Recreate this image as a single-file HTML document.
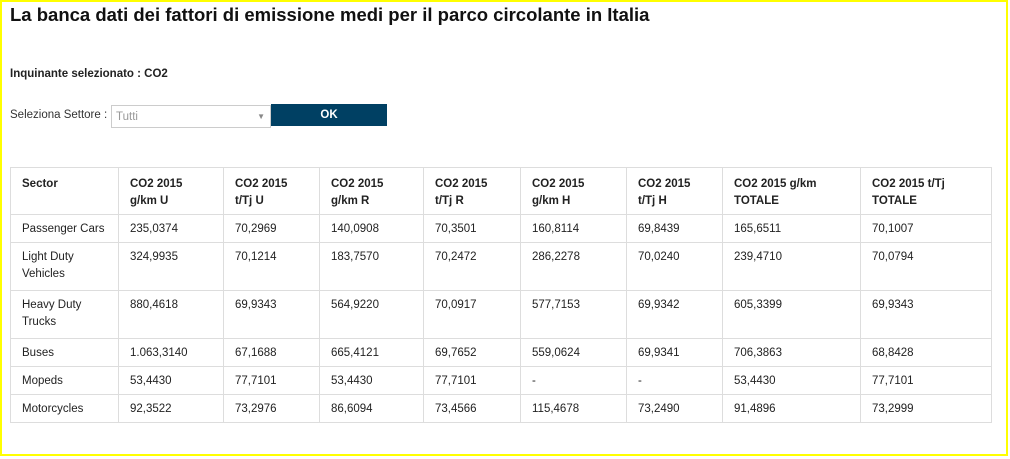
<!DOCTYPE html>
<html><head><meta charset="utf-8"><style>
*{margin:0;padding:0;box-sizing:border-box}
body{width:1010px;height:459px;background:#fff;font-family:"Liberation Sans",Arial,sans-serif;color:#222;position:relative;overflow:hidden}
#frame{position:absolute;left:0;top:0;width:1008px;height:456px;border:2px solid #ffff00}
h1{position:absolute;left:10px;top:4px;font-size:18.5px;font-weight:bold;color:#111;white-space:nowrap}
.inq{position:absolute;left:10px;top:68px;font-size:11.5px;font-weight:bold}
.sel{position:absolute;left:10px;top:109px;font-size:11.5px;color:#333;white-space:nowrap}
.box{position:absolute;left:111px;top:105px;width:160px;height:23px;border:1px solid #ccc;font-size:11.5px;color:#999;padding:5px 4px}
.box:after{content:"▼";position:absolute;right:5px;top:6px;font-size:8px;color:#888}
.ok{position:absolute;left:271px;top:104px;width:116px;height:22px;background:#004063;color:#fff;font-weight:bold;font-size:11.5px;text-align:center;line-height:22px}
table{position:absolute;left:10px;top:167px;width:981px;border-collapse:collapse;font-size:11.5px;table-layout:fixed}
td,th{border:1px solid #ddd;padding:6px 6px 0 11px;vertical-align:top;text-align:left;line-height:17px;white-space:nowrap}
th{font-weight:bold;height:47px;padding-top:8px}
td{height:28px}
tr.t td{height:48px}
</style></head><body>
<div id="frame"></div>
<h1>La banca dati dei fattori di emissione medi per il parco circolante in Italia</h1>
<div class="inq">Inquinante selezionato : CO2</div>
<div class="sel">Seleziona Settore :</div>
<div class="box">Tutti</div>
<div class="ok">OK</div>
<table>
<colgroup><col style="width:108px"><col style="width:105px"><col style="width:96px"><col style="width:104px"><col style="width:97px"><col style="width:106px"><col style="width:96px"><col style="width:138px"><col style="width:131px"></colgroup>
<tr><th>Sector</th><th>CO2 2015<br>g/km U</th><th>CO2 2015<br>t/Tj U</th><th>CO2 2015<br>g/km R</th><th>CO2 2015<br>t/Tj R</th><th>CO2 2015<br>g/km H</th><th>CO2 2015<br>t/Tj H</th><th>CO2 2015 g/km<br>TOTALE</th><th>CO2 2015 t/Tj<br>TOTALE</th></tr>
<tr><td>Passenger Cars</td><td>235,0374</td><td>70,2969</td><td>140,0908</td><td>70,3501</td><td>160,8114</td><td>69,8439</td><td>165,6511</td><td>70,1007</td></tr>
<tr class="t"><td>Light Duty<br>Vehicles</td><td>324,9935</td><td>70,1214</td><td>183,7570</td><td>70,2472</td><td>286,2278</td><td>70,0240</td><td>239,4710</td><td>70,0794</td></tr>
<tr class="t"><td>Heavy Duty<br>Trucks</td><td>880,4618</td><td>69,9343</td><td>564,9220</td><td>70,0917</td><td>577,7153</td><td>69,9342</td><td>605,3399</td><td>69,9343</td></tr>
<tr><td>Buses</td><td>1.063,3140</td><td>67,1688</td><td>665,4121</td><td>69,7652</td><td>559,0624</td><td>69,9341</td><td>706,3863</td><td>68,8428</td></tr>
<tr><td>Mopeds</td><td>53,4430</td><td>77,7101</td><td>53,4430</td><td>77,7101</td><td>-</td><td>-</td><td>53,4430</td><td>77,7101</td></tr>
<tr><td>Motorcycles</td><td>92,3522</td><td>73,2976</td><td>86,6094</td><td>73,4566</td><td>115,4678</td><td>73,2490</td><td>91,4896</td><td>73,2999</td></tr>
</table>
</body></html>
